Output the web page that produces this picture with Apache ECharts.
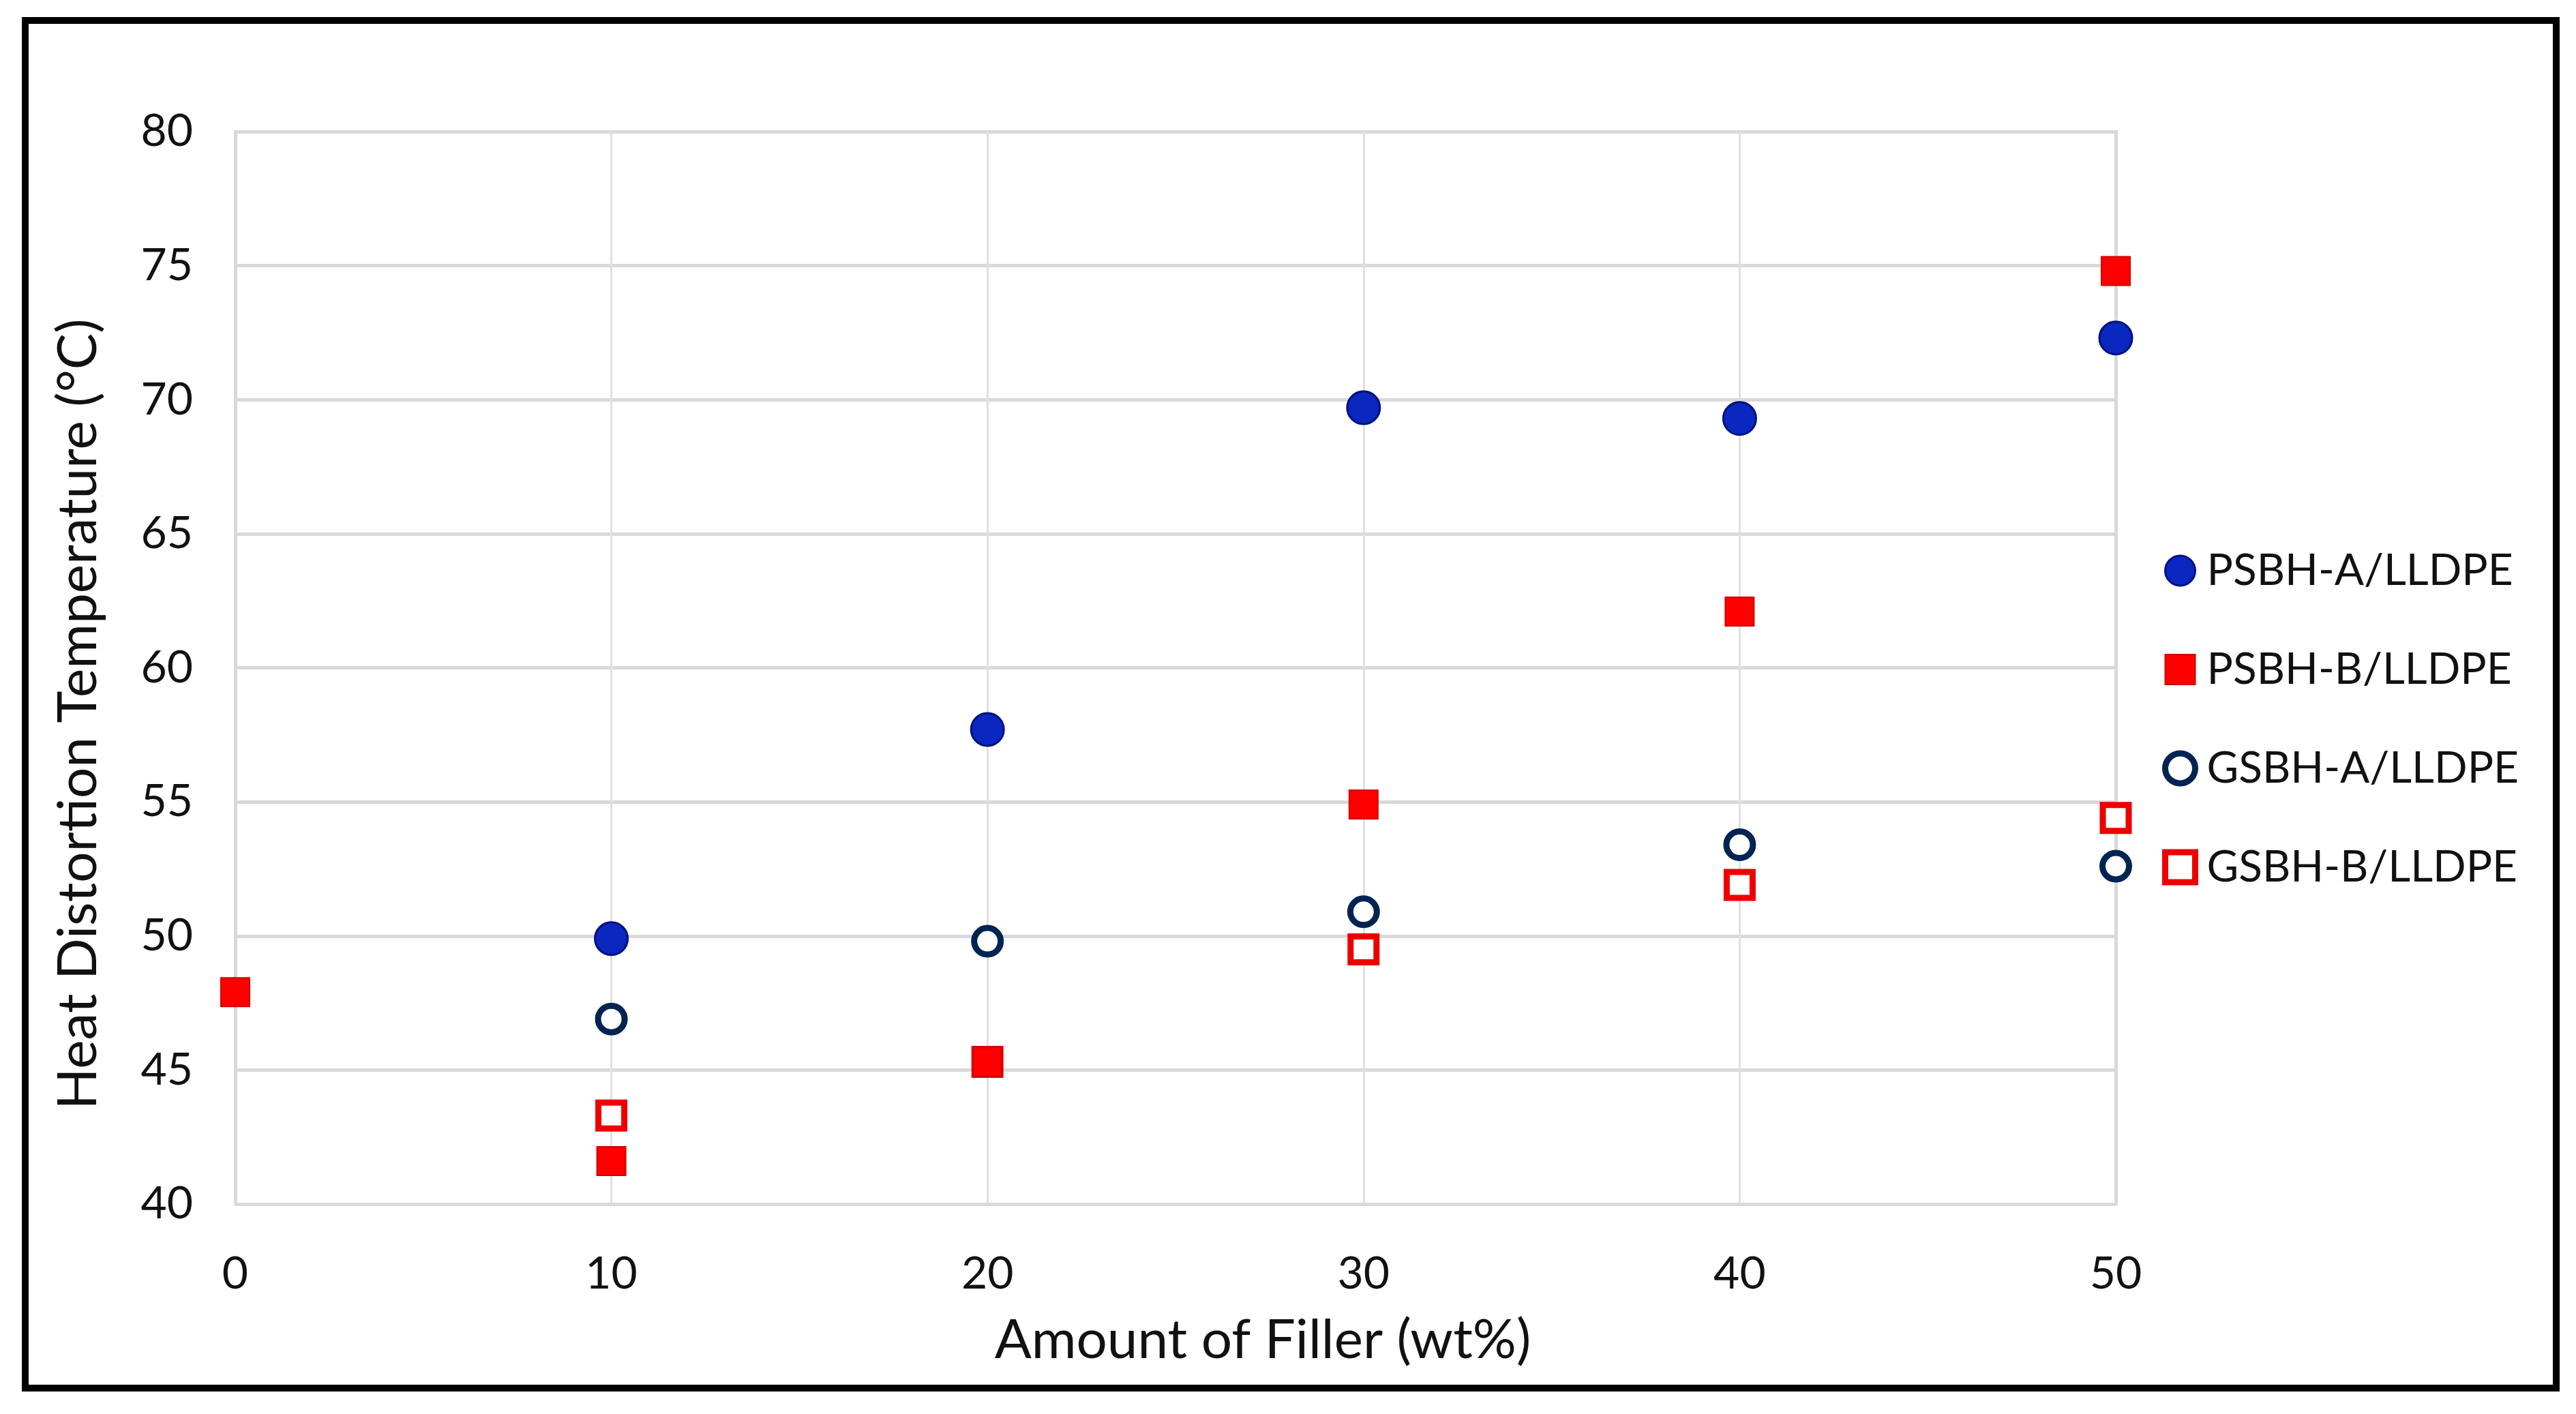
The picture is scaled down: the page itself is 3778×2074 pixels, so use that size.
<!DOCTYPE html>
<html>
<head>
<meta charset="utf-8">
<script src="https://cdn.jsdelivr.net/npm/echarts@6/dist/echarts.min.js"></script>
<style>
html,body{margin:0;padding:0;background:#fff;}
#chart{width:3778px;height:2074px;}
</style>
</head>
<body>
<div id="chart"></div>
<script>
// Data
const seriesNames = ['PSBH-A/LLDPE', 'PSBH-B/LLDPE', 'GSBH-A/LLDPE', 'GSBH-B/LLDPE'];
const psbhA = [[10, 49.9], [20, 57.7], [30, 69.7], [40, 69.3], [50, 72.3]];
const psbhB = [[0, 47.9], [10, 41.6], [20, 45.3], [30, 54.9], [40, 62.1], [50, 74.8]];
const gsbhA = [[10, 46.9], [20, 49.8], [30, 50.9], [40, 53.4], [50, 52.6]];
const gsbhB = [[10, 43.3], [20, 45.3], [30, 49.5], [40, 51.9], [50, 54.4]];
const xTicks = [0, 10, 20, 30, 40, 50];
const yTicks = [40, 45, 50, 55, 60, 65, 70, 75, 80];
const xTitle = 'Amount of Filler (wt%)';
const yTitle = 'Heat Distortion Temperature (°C)';

const FONT = 'Lato';
const TXT = '#111111';
const GRID = '#d9d9d9';

const styles = [
  {color: '#0a28c0', borderColor: '#001080', borderWidth: 3, opacity: 1},
  {color: '#ff0000', borderColor: '#d00000', borderWidth: 2, opacity: 1},
  {color: '#ffffff', borderColor: '#002452', borderWidth: 9, opacity: 1},
  {color: '#ffffff', borderColor: '#ee0000', borderWidth: 9, opacity: 1}
];

const chart = echarts.init(document.getElementById('chart'), null, {renderer: 'canvas'});
chart.setOption({
  backgroundColor: '#ffffff',
  animation: false,
  graphic: [{
    type: 'rect',
    shape: {x: 37, y: 30, width: 3712, height: 2006},
    style: {fill: 'none', stroke: '#000', lineWidth: 10},
    z: 100
  }],
  grid: {left: 345, right: 675, top: 193, bottom: 308, containLabel: false},
  xAxis: {
    type: 'value', min: 0, max: 50, interval: 10,
    name: xTitle, nameLocation: 'middle', nameGap: 160,
    nameTextStyle: {fontFamily: FONT, fontSize: 80, color: TXT, padding: [0, 0, 0, 256]},
    axisLine: {show: false},
    axisTick: {show: false},
    axisLabel: {fontFamily: FONT, fontSize: 66, color: TXT, margin: 70,
      formatter: v => xTicks.includes(v) ? String(v) : ''},
    splitLine: {show: true, lineStyle: {color: '#e0e0e0', width: 3}}
  },
  yAxis: [{
    type: 'value', min: 40, max: 80, interval: 5,
    name: yTitle, nameLocation: 'middle', nameGap: 190,
    nameTextStyle: {fontFamily: FONT, fontSize: 80, color: TXT, padding: [0, 136, 0, 0]},
    axisLine: {show: true, lineStyle: {color: GRID, width: 5}},
    axisTick: {show: false},
    axisLabel: {fontFamily: FONT, fontSize: 66, color: TXT, margin: 62,
      formatter: v => yTicks.includes(v) ? String(v) : ''},
    splitLine: {show: true, lineStyle: {color: GRID, width: 5}}
  }, {
    type: 'value', min: 40, max: 80, interval: 5, position: 'right',
    axisLine: {show: true, lineStyle: {color: GRID, width: 5}},
    axisTick: {show: false}, axisLabel: {show: false}, splitLine: {show: false}
  }],
  legend: {
    orient: 'vertical', left: 3166, top: 800,
    itemWidth: 44, itemHeight: 44, itemGap: 81,
    textStyle: {fontFamily: FONT, fontSize: 64, color: TXT, padding: [0, 0, 0, 12]},
    data: seriesNames.map((n, i) => ({name: n, itemStyle: Object.assign({}, styles[i])}))
  },
  series: [
    {name: seriesNames[0], type: 'scatter', data: psbhA, symbol: 'circle', symbolSize: 48, z: 3, itemStyle: styles[0]},
    {name: seriesNames[1], type: 'scatter', data: psbhB, symbol: 'rect', symbolSize: 42, z: 4, itemStyle: styles[1]},
    {name: seriesNames[2], type: 'scatter', data: gsbhA, symbol: 'circle', symbolSize: 39, z: 3, itemStyle: styles[2]},
    {name: seriesNames[3], type: 'scatter', data: gsbhB, symbol: 'rect', symbolSize: 38, z: 2, itemStyle: styles[3]}
  ]
});
</script>
</body>
</html>
